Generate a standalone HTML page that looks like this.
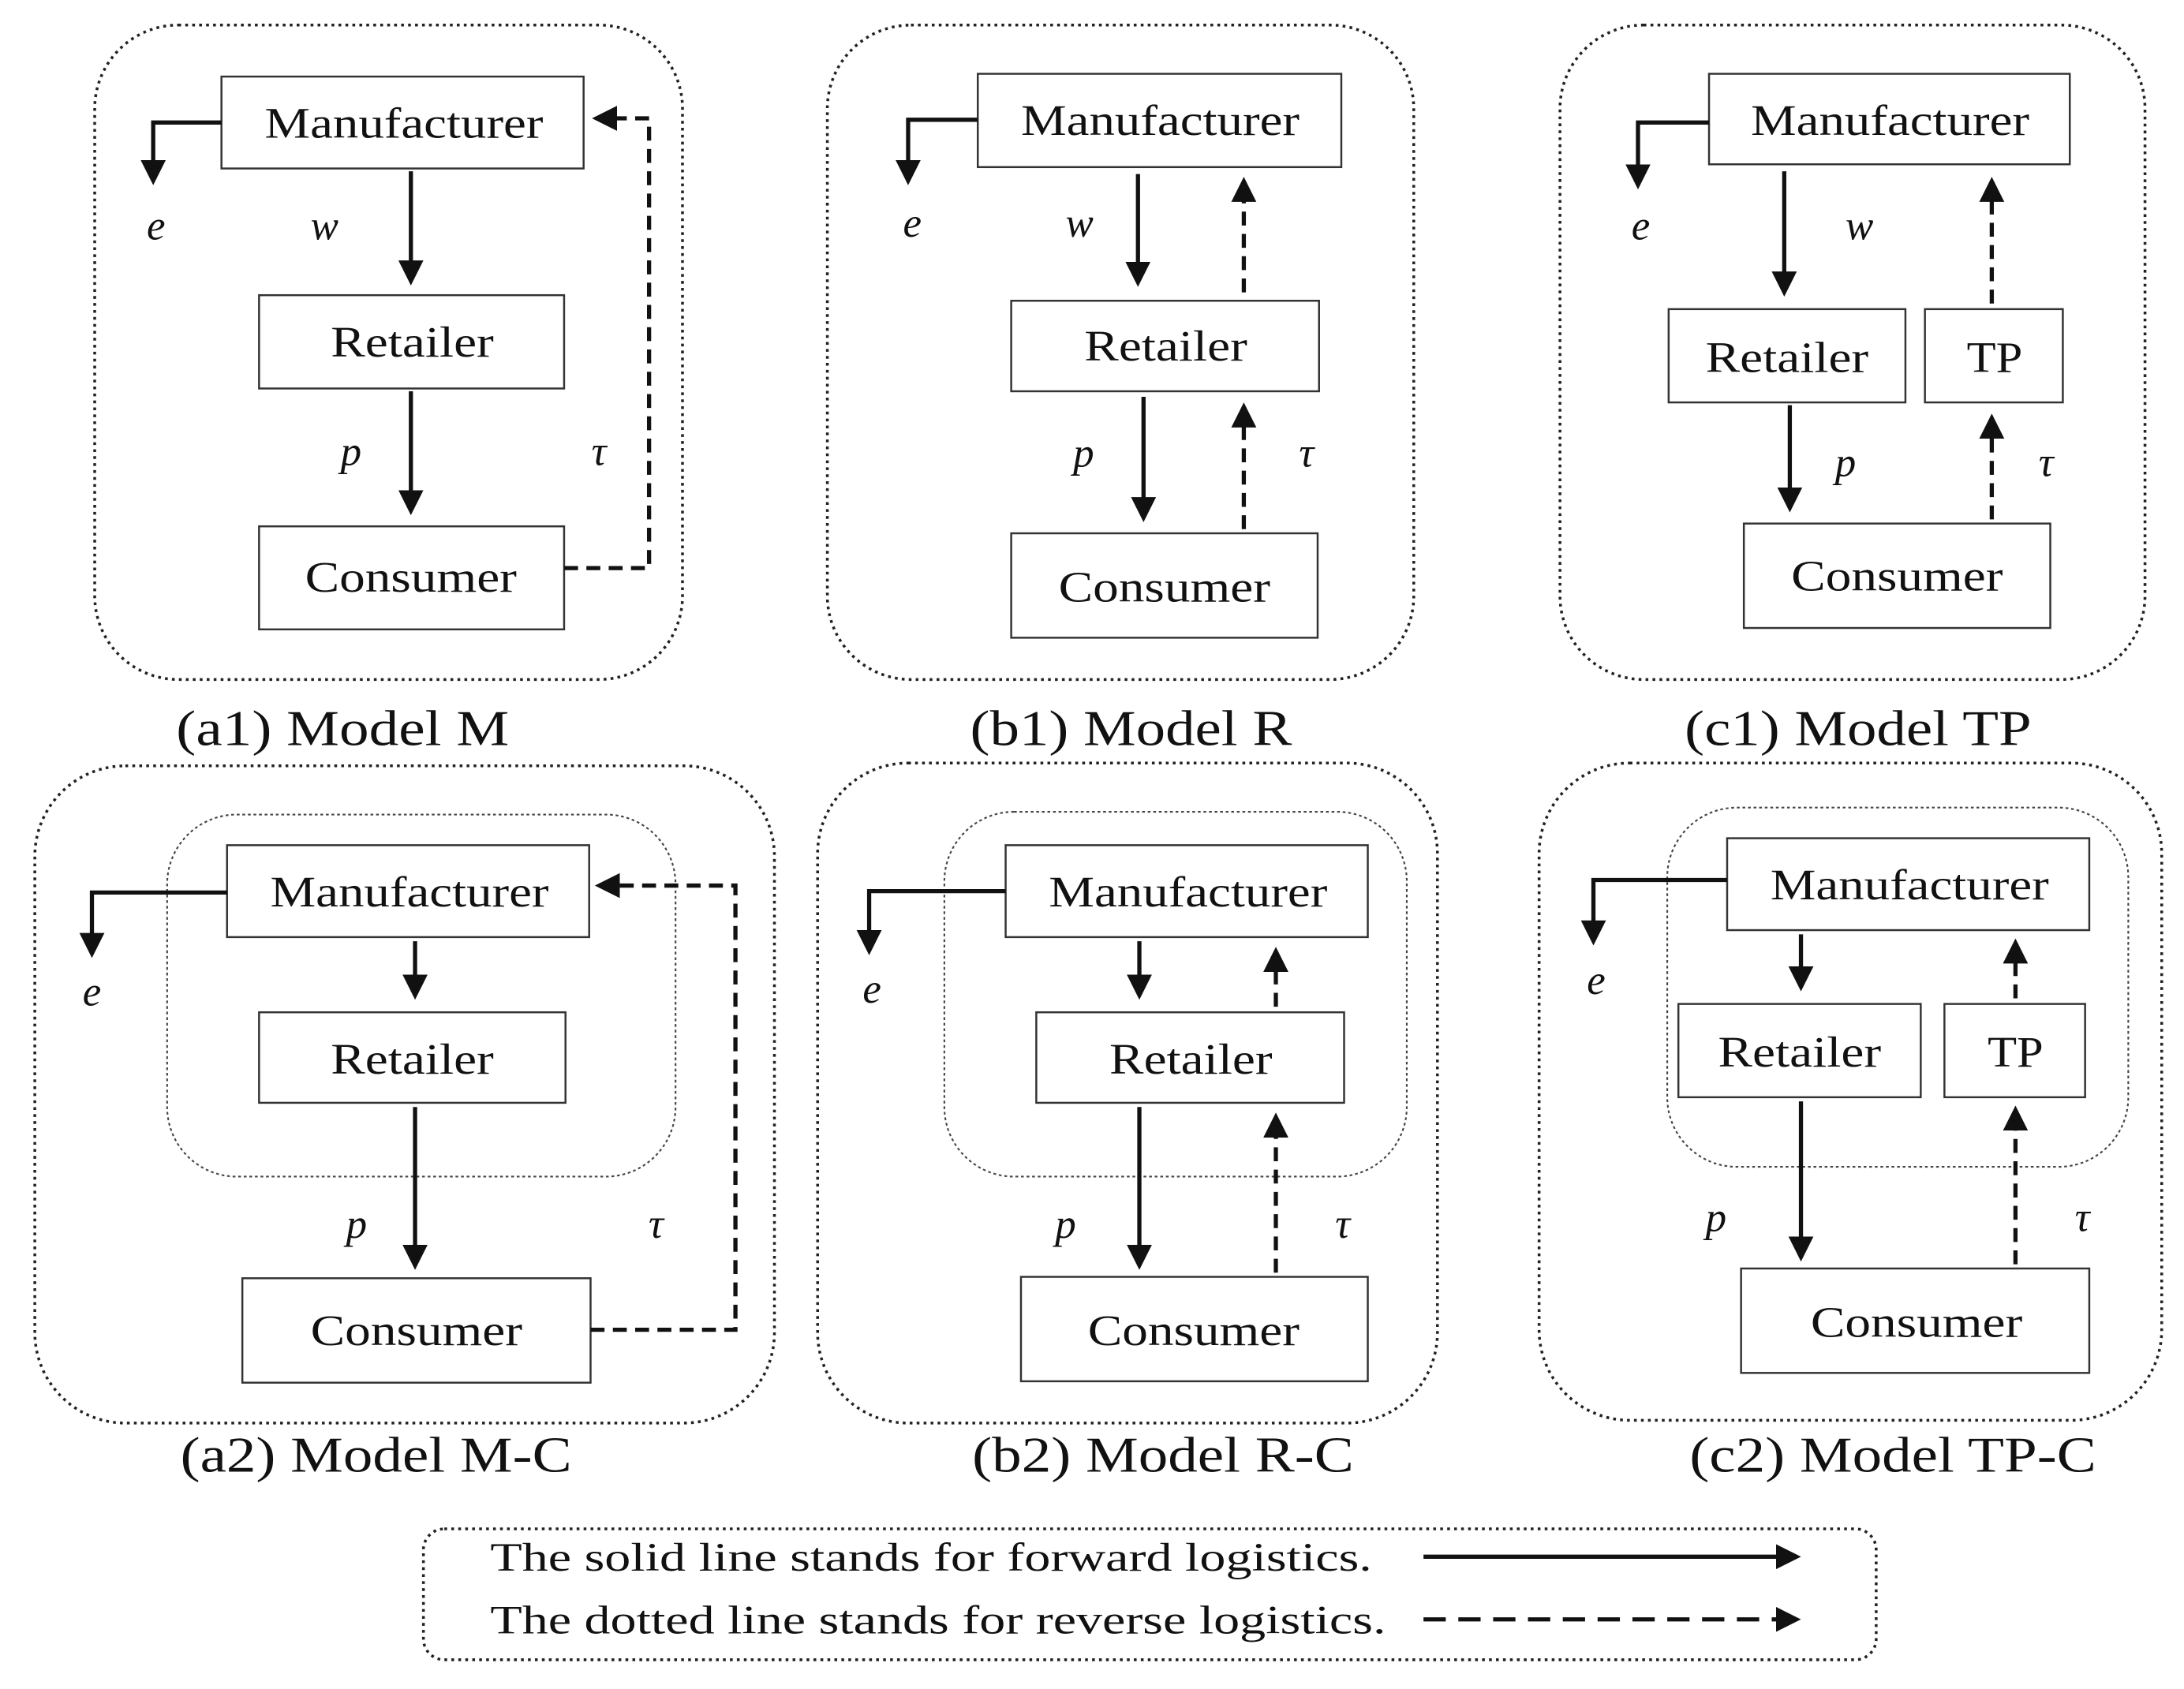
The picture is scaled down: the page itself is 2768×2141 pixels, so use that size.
<!DOCTYPE html>
<html><head><meta charset="utf-8"><style>
html,body{margin:0;padding:0;background:#fff;}
svg{display:block;}
text{font-family:"Liberation Serif",serif;fill:#111;}
.bx{fill:#fff;stroke:#333;stroke-width:1.4;}
.od{fill:none;stroke:#222;stroke-width:2;stroke-dasharray:2,3;}
.id{fill:none;stroke:#444;stroke-width:1.2;stroke-dasharray:2,2;}
.s{fill:none;stroke:#111;stroke-width:3;}
.d{fill:none;stroke:#111;stroke-width:3;stroke-dasharray:10,6;}
.dl{fill:none;stroke:#111;stroke-width:3;stroke-dasharray:16,9;}
.l{font-size:31px;text-anchor:middle;}
.v{font-size:30px;font-style:italic;text-anchor:middle;}
.c{font-size:36px;text-anchor:middle;}
.g{font-size:29px;}
</style></head><body>
<svg width="2768" height="2141" viewBox="0 0 1568 1213" preserveAspectRatio="none" xmlns="http://www.w3.org/2000/svg">
<defs>
<marker id="a" markerWidth="6" markerHeight="6" refX="5" refY="3" orient="auto" markerUnits="strokeWidth"><path d="M0,0 L6,3 L0,6 z" fill="#111"/></marker>
</defs>

<!-- a1 -->
<rect class="od" x="68" y="18" width="422" height="470" rx="60"/>
<rect class="bx" x="159" y="55" width="260" height="66"/><text class="l" x="290" y="99" textLength="200" lengthAdjust="spacingAndGlyphs">Manufacturer</text>
<rect class="bx" x="186" y="212" width="219" height="67"/><text class="l" x="296" y="256" textLength="117" lengthAdjust="spacingAndGlyphs">Retailer</text>
<rect class="bx" x="186" y="378" width="219" height="74"/><text class="l" x="295" y="425" textLength="152" lengthAdjust="spacingAndGlyphs">Consumer</text>
<path class="s" d="M159,88 H110 V130" marker-end="url(#a)"/>
<text class="v" x="112" y="172">e</text><text class="v" x="233" y="172">w</text>
<path class="s" d="M295,123 V202" marker-end="url(#a)"/>
<text class="v" x="252" y="334">p</text><text class="v" x="430" y="334">τ</text>
<path class="s" d="M295,281 V367" marker-end="url(#a)"/>
<path class="d" d="M405,408 H466 V85 H428" marker-end="url(#a)"/>
<text class="c" x="246" y="535" textLength="239" lengthAdjust="spacingAndGlyphs">(a1) Model M</text>

<!-- b1 -->
<rect class="od" x="594" y="18" width="421" height="470" rx="60"/>
<rect class="bx" x="702" y="53" width="261" height="67"/><text class="l" x="833" y="97" textLength="200" lengthAdjust="spacingAndGlyphs">Manufacturer</text>
<rect class="bx" x="726" y="216" width="221" height="65"/><text class="l" x="837" y="259" textLength="117" lengthAdjust="spacingAndGlyphs">Retailer</text>
<rect class="bx" x="726" y="383" width="220" height="75"/><text class="l" x="836" y="432" textLength="152" lengthAdjust="spacingAndGlyphs">Consumer</text>
<path class="s" d="M702,86 H652 V130" marker-end="url(#a)"/>
<text class="v" x="655" y="170">e</text><text class="v" x="775" y="170">w</text>
<path class="s" d="M817,125 V203" marker-end="url(#a)"/>
<path class="d" d="M893,210 V130" marker-end="url(#a)"/>
<text class="v" x="778" y="335">p</text><text class="v" x="938" y="335">τ</text>
<path class="s" d="M821,285 V372" marker-end="url(#a)"/>
<path class="d" d="M893,380 V292" marker-end="url(#a)"/>
<text class="c" x="812" y="535" textLength="231" lengthAdjust="spacingAndGlyphs">(b1) Model R</text>

<!-- c1 -->
<rect class="od" x="1120" y="18" width="420" height="470" rx="60"/>
<rect class="bx" x="1227" y="53" width="259" height="65"/><text class="l" x="1357" y="97" textLength="200" lengthAdjust="spacingAndGlyphs">Manufacturer</text>
<rect class="bx" x="1198" y="222" width="170" height="67"/><text class="l" x="1283" y="267" textLength="117" lengthAdjust="spacingAndGlyphs">Retailer</text>
<rect class="bx" x="1382" y="222" width="99" height="67"/><text class="l" x="1432" y="267" textLength="40" lengthAdjust="spacingAndGlyphs">TP</text>
<rect class="bx" x="1252" y="376" width="220" height="75"/><text class="l" x="1362" y="424" textLength="152" lengthAdjust="spacingAndGlyphs">Consumer</text>
<path class="s" d="M1227,88 H1176 V133" marker-end="url(#a)"/>
<text class="v" x="1178" y="172">e</text><text class="v" x="1335" y="172">w</text>
<path class="s" d="M1281,123 V210" marker-end="url(#a)"/>
<path class="d" d="M1430,218 V130" marker-end="url(#a)"/>
<text class="v" x="1325" y="342">p</text><text class="v" x="1469" y="342">τ</text>
<path class="s" d="M1285,291 V365" marker-end="url(#a)"/>
<path class="d" d="M1430,373 V300" marker-end="url(#a)"/>
<text class="c" x="1334" y="535" textLength="249" lengthAdjust="spacingAndGlyphs">(c1) Model TP</text>

<!-- a2 -->
<rect class="od" x="25" y="550" width="531" height="472" rx="65"/>
<rect class="id" x="120" y="585" width="365" height="260" rx="50"/>
<rect class="bx" x="163" y="607" width="260" height="66"/><text class="l" x="294" y="651" textLength="200" lengthAdjust="spacingAndGlyphs">Manufacturer</text>
<rect class="bx" x="186" y="727" width="220" height="65"/><text class="l" x="296" y="771" textLength="117" lengthAdjust="spacingAndGlyphs">Retailer</text>
<rect class="bx" x="174" y="918" width="250" height="75"/><text class="l" x="299" y="966" textLength="152" lengthAdjust="spacingAndGlyphs">Consumer</text>
<path class="s" d="M163,641 H66 V685" marker-end="url(#a)"/>
<text class="v" x="66" y="722">e</text>
<path class="s" d="M298,676 V715" marker-end="url(#a)"/>
<path class="s" d="M298,795 V909" marker-end="url(#a)"/>
<text class="v" x="256" y="889">p</text><text class="v" x="471" y="889">τ</text>
<path class="d" d="M424,955 H528 V636 H430" marker-end="url(#a)"/>
<text class="c" x="270" y="1057" textLength="281" lengthAdjust="spacingAndGlyphs">(a2) Model M-C</text>

<!-- b2 -->
<rect class="od" x="587" y="548" width="445" height="474" rx="65"/>
<rect class="id" x="678" y="583" width="332" height="262" rx="50"/>
<rect class="bx" x="722" y="607" width="260" height="66"/><text class="l" x="853" y="651" textLength="200" lengthAdjust="spacingAndGlyphs">Manufacturer</text>
<rect class="bx" x="744" y="727" width="221" height="65"/><text class="l" x="855" y="771" textLength="117" lengthAdjust="spacingAndGlyphs">Retailer</text>
<rect class="bx" x="733" y="917" width="249" height="75"/><text class="l" x="857" y="966" textLength="152" lengthAdjust="spacingAndGlyphs">Consumer</text>
<path class="s" d="M722,640 H624 V683" marker-end="url(#a)"/>
<text class="v" x="626" y="720">e</text>
<path class="s" d="M818,676 V715" marker-end="url(#a)"/>
<path class="d" d="M916,723 V683" marker-end="url(#a)"/>
<path class="s" d="M818,795 V909" marker-end="url(#a)"/>
<path class="d" d="M916,914 V802" marker-end="url(#a)"/>
<text class="v" x="765" y="889">p</text><text class="v" x="964" y="889">τ</text>
<text class="c" x="835" y="1057" textLength="274" lengthAdjust="spacingAndGlyphs">(b2) Model R-C</text>

<!-- c2 -->
<rect class="od" x="1105" y="548" width="447" height="472" rx="65"/>
<rect class="id" x="1197" y="580" width="331" height="258" rx="50"/>
<rect class="bx" x="1240" y="602" width="260" height="66"/><text class="l" x="1371" y="646" textLength="200" lengthAdjust="spacingAndGlyphs">Manufacturer</text>
<rect class="bx" x="1205" y="721" width="174" height="67"/><text class="l" x="1292" y="766" textLength="117" lengthAdjust="spacingAndGlyphs">Retailer</text>
<rect class="bx" x="1396" y="721" width="101" height="67"/><text class="l" x="1447" y="766" textLength="40" lengthAdjust="spacingAndGlyphs">TP</text>
<rect class="bx" x="1250" y="911" width="250" height="75"/><text class="l" x="1376" y="960" textLength="152" lengthAdjust="spacingAndGlyphs">Consumer</text>
<path class="s" d="M1240,632 H1144 V676" marker-end="url(#a)"/>
<text class="v" x="1146" y="714">e</text>
<path class="s" d="M1293,671 V709" marker-end="url(#a)"/>
<path class="d" d="M1447,717 V677" marker-end="url(#a)"/>
<path class="s" d="M1293,791 V903" marker-end="url(#a)"/>
<path class="d" d="M1447,908 V797" marker-end="url(#a)"/>
<text class="v" x="1232" y="884">p</text><text class="v" x="1495" y="884">τ</text>
<text class="c" x="1359" y="1057" textLength="292" lengthAdjust="spacingAndGlyphs">(c2) Model TP-C</text>

<!-- legend -->
<rect class="od" x="304" y="1098" width="1043" height="94" rx="15"/>
<text class="g" x="352" y="1128" textLength="633" lengthAdjust="spacingAndGlyphs">The solid line stands for forward logistics.</text>
<path class="s" d="M1022,1118 H1290" marker-end="url(#a)"/>
<text class="g" x="352" y="1173" textLength="643" lengthAdjust="spacingAndGlyphs">The dotted line stands for reverse logistics.</text>
<path class="dl" d="M1022,1163 H1290" marker-end="url(#a)"/>
</svg>
</body></html>
